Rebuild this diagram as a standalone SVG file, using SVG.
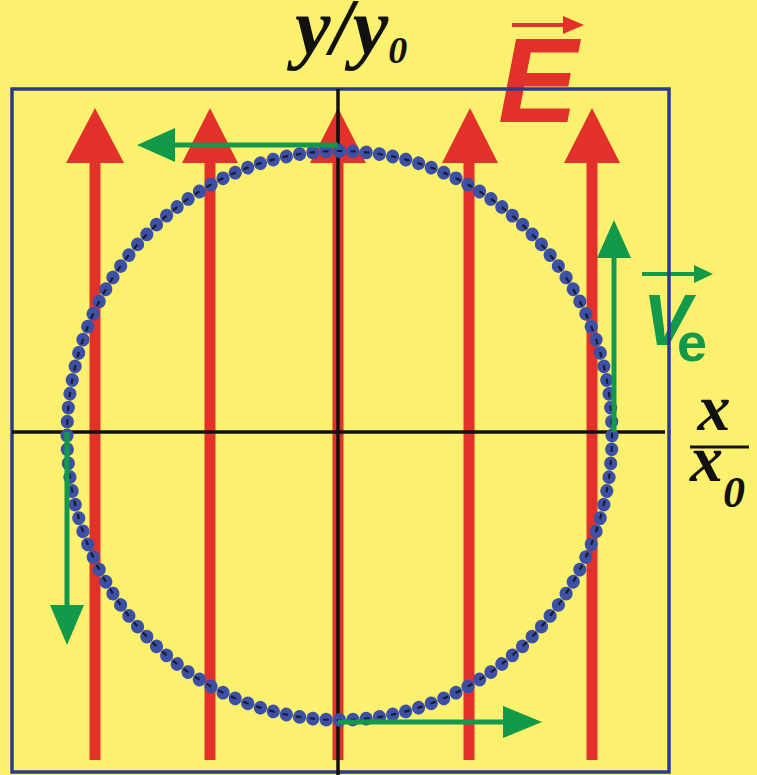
<svg xmlns="http://www.w3.org/2000/svg" width="757" height="775" viewBox="0 0 757 775">
<defs>
<style>
.red{fill:#e2312b}
.redl{stroke:#e2312b;stroke-width:11;fill:none}
.grn{stroke:#12994a;stroke-width:5;fill:none}
.grnh{fill:#12994a}
.axis{stroke:#111;stroke-width:3.5;fill:none}
.dot{fill:#3c50a6}
.serif{font-family:"Liberation Serif","Times New Roman",serif;font-weight:bold;font-style:italic;fill:#111}
.sans{font-family:"Liberation Sans",Arial,sans-serif;font-weight:bold}
</style>
<circle id="dot" class="dot" cx="0" cy="-272.5" r="6.6"/>
<g id="d8">
<use href="#dot"/>
<use href="#dot" transform="rotate(2.8125)"/>
<use href="#dot" transform="rotate(5.625)"/>
<use href="#dot" transform="rotate(8.4375)"/>
<use href="#dot" transform="rotate(11.25)"/>
<use href="#dot" transform="rotate(14.0625)"/>
<use href="#dot" transform="rotate(16.875)"/>
<use href="#dot" transform="rotate(19.6875)"/>
</g>
</defs>
<rect x="0" y="0" width="757" height="775" fill="#fcf16f"/>

<g id="label-E">
<text class="sans red" x="498" y="122" font-size="120" font-style="italic">E</text>
<line x1="512" y1="25" x2="568" y2="25" stroke="#e2312b" stroke-width="4"/>
<polygon class="red" points="584,25 563,16 563,34"/>
</g>
<g id="label-ve">
<text class="sans" x="643" y="345" font-size="72" font-style="italic" fill="#12994a">V</text>
<text class="sans" x="677" y="361" font-size="54" fill="#12994a">e</text>
<line x1="642" y1="274" x2="698" y2="274" stroke="#12994a" stroke-width="4"/>
<polygon class="grnh" points="713,274 694,265 694,283"/>
</g>
<g id="label-y">
<text class="serif" x="295" y="54" font-size="80">y/y<tspan font-size="38" dy="9">0</tspan></text>
</g>
<g id="label-x">
<text class="serif" x="714" y="430" font-size="66" text-anchor="middle">x</text>
<line x1="690" y1="447" x2="749" y2="447" stroke="#111" stroke-width="3"/>
<text class="serif" x="690" y="481" font-size="66">x<tspan font-size="44" dy="26">0</tspan></text>
</g>

<g id="frame">
<rect x="12" y="89" width="657" height="683" fill="none" stroke="#2b3a8e" stroke-width="3.5"/>
</g>

<g id="field-arrows">
<line class="redl" x1="95" y1="160" x2="95" y2="760"/>
<polygon class="red" points="95,108 66,163 124,163"/>
<line class="redl" x1="210" y1="160" x2="210" y2="760"/>
<polygon class="red" points="210,108 182,163 238,163"/>
<line class="redl" x1="338" y1="160" x2="338" y2="760"/>
<polygon class="red" points="338,108 310,163 366,163"/>
<line class="redl" x1="469" y1="160" x2="469" y2="760"/>
<polygon class="red" points="470,108 442,163 498,163"/>
<line class="redl" x1="592" y1="160" x2="592" y2="760"/>
<polygon class="red" points="592,108 564,163 620,163"/>
</g>

<g id="axes">
<line class="axis" x1="338" y1="89" x2="338" y2="775"/>
<line class="axis" x1="12" y1="432" x2="665" y2="432"/>
</g>

<g id="orbit">
<g transform="translate(339.5,435.5) scale(1,1.044)">
<use href="#d8"/>
<use href="#d8" transform="rotate(22.5)"/>
<use href="#d8" transform="rotate(45)"/>
<use href="#d8" transform="rotate(67.5)"/>
<use href="#d8" transform="rotate(90)"/>
<use href="#d8" transform="rotate(112.5)"/>
<use href="#d8" transform="rotate(135)"/>
<use href="#d8" transform="rotate(157.5)"/>
<use href="#d8" transform="rotate(180)"/>
<use href="#d8" transform="rotate(202.5)"/>
<use href="#d8" transform="rotate(225)"/>
<use href="#d8" transform="rotate(247.5)"/>
<use href="#d8" transform="rotate(270)"/>
<use href="#d8" transform="rotate(292.5)"/>
<use href="#d8" transform="rotate(315)"/>
<use href="#d8" transform="rotate(337.5)"/>
</g>
<ellipse cx="339.5" cy="435.5" rx="272.5" ry="284.5" fill="none" stroke="#1a1a2a" stroke-width="2.2" stroke-dasharray="0.4 0.6" stroke-dashoffset="0.2" pathLength="128"/>
</g>

<g id="velocity-arrows">
<line class="grn" x1="338" y1="145" x2="172" y2="145"/>
<polygon class="grnh" points="137,145 175,128 175,162"/>
<line class="grn" x1="614" y1="432" x2="614" y2="255"/>
<polygon class="grnh" points="614,220 597,258 631,258"/>
<line class="grn" x1="67" y1="432" x2="67" y2="608"/>
<polygon class="grnh" points="67,645 50,605 84,605"/>
<line class="grn" x1="338" y1="722" x2="506" y2="722"/>
<polygon class="grnh" points="542,722 503,706 503,738"/>
</g>
</svg>
